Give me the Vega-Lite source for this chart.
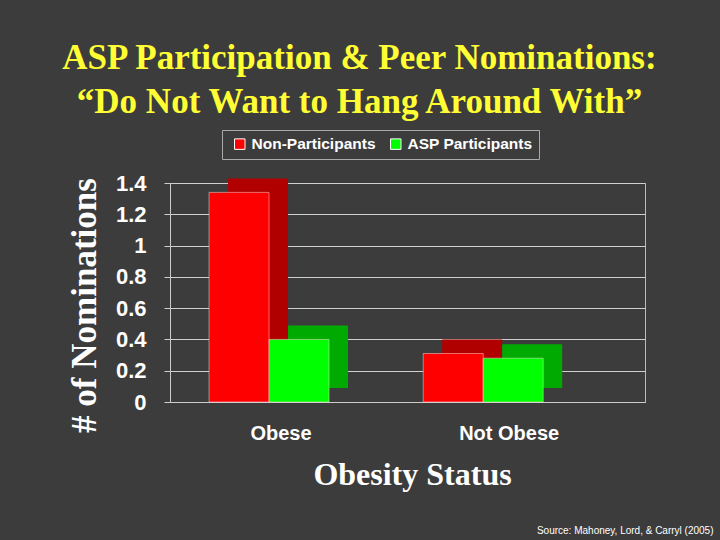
{
  "$schema": "https://vega.github.io/schema/vega-lite/v6.json",
  "autosize": {"type": "none"},
  "width": 475,
  "height": 219,
  "padding": {"left": 170, "top": 183, "right": 75, "bottom": 138},
  "background": "#3c3c3c",
  "title": {
    "text": ["ASP Participation & Peer Nominations:", "“Do Not Want to Hang Around With”"],
    "font": "Liberation Serif",
    "fontSize": 35,
    "fontWeight": "bold",
    "color": "#ffff33",
    "lineHeight": 44,
    "anchor": "middle",
    "dx": -48,
    "offset": 10
  },
  "data": {
    "values": [
      {"Status": "Obese", "Group": "Non-Participants", "Nominations": 1.34},
      {"Status": "Obese", "Group": "ASP Participants", "Nominations": 0.40},
      {"Status": "Not Obese", "Group": "Non-Participants", "Nominations": 0.31},
      {"Status": "Not Obese", "Group": "ASP Participants", "Nominations": 0.28}
    ]
  },
  "config": {
    "view": {"stroke": "#bbbbbb", "strokeWidth": 1},
    "axis": {"labelColor": "white", "titleColor": "white", "domainColor": "#cccccc", "tickColor": "#cccccc", "gridColor": "#d0d0d0"}
  },
  "layer": [
    {
      "mark": {"type": "bar", "yOffset": -14},
      "encoding": {
        "x": {"field": "Status", "type": "nominal", "sort": ["Obese", "Not Obese"],
          "scale": {"paddingInner": 0.44, "paddingOuter": 0.329, "align": 0.277}, "axis": null},
        "xOffset": {"field": "Group", "sort": ["Non-Participants", "ASP Participants"], "scale": {"range": [19, 139]}},
        "y": {"field": "Nominations", "type": "quantitative",
          "scale": {"domain": [0, 1.4]},
          "axis": {"title": "# of Nominations", "values": [0, 0.2, 0.4, 0.6, 0.8, 1, 1.2, 1.4], "format": "~g",
            "labelOverlap": false, "labelBound": false,
            "labelFont": "Arial", "labelFontSize": 22, "labelFontWeight": "bold", "labelPadding": 18, "tickSize": 6,
            "titleFont": "Liberation Serif", "titleFontSize": 35, "titleFontWeight": "bold", "titlePadding": 13, "titleY": 122}},
        "color": {"condition": {"test": "datum.Group === 'Non-Participants'", "value": "#b00000"}, "value": "#00aa00"}
      }
    },
    {
      "mark": {"type": "bar", "stroke": "#ffdddd", "strokeWidth": 0.5},
      "encoding": {
        "x": {"field": "Status", "type": "nominal", "sort": ["Obese", "Not Obese"],
          "scale": {"paddingInner": 0.44, "paddingOuter": 0.329, "align": 0.277},
          "axis": {"title": "Obesity Status", "orient": "bottom", "labelAngle": 0, "labelFont": "Arial", "labelFontSize": 20, "labelFontWeight": "bold",
            "labelPadding": 21, "labelOffset": {"condition": {"test": "datum.value === 'Obese'", "value": 12}, "value": 26}, "ticks": false,
            "titleFont": "Liberation Serif", "titleFontSize": 32, "titleFontWeight": "bold", "titlePadding": 16, "titleX": 242}},
        "xOffset": {"field": "Group", "sort": ["Non-Participants", "ASP Participants"], "scale": {"range": [0, 120]}},
        "y": {"field": "Nominations", "type": "quantitative",
          "scale": {"domain": [0, 1.4]},
          "axis": {"title": "# of Nominations", "values": [0, 0.2, 0.4, 0.6, 0.8, 1, 1.2, 1.4], "format": "~g",
            "labelOverlap": false, "labelBound": false,
            "labelFont": "Arial", "labelFontSize": 22, "labelFontWeight": "bold", "labelPadding": 18, "tickSize": 6,
            "titleFont": "Liberation Serif", "titleFontSize": 35, "titleFontWeight": "bold", "titlePadding": 13, "titleY": 122}},
        "color": {"field": "Group", "scale": {"domain": ["Non-Participants", "ASP Participants"], "range": ["#ff0000", "#00ff00"]},
          "legend": {"title": null, "orient": "none", "legendX": 52, "legendY": -53, "direction": "horizontal",
            "symbolType": "square", "symbolSize": 110, "symbolStrokeColor": "white", "symbolStrokeWidth": 1,
            "labelColor": "white", "labelFont": "Arial", "labelFontSize": 15.5, "labelFontWeight": "bold",
            "strokeColor": "#aaaaaa", "padding": 6, "columnPadding": 8, "symbolOffset": 4}}
      }
    },
    {
      "mark": {"type": "point", "opacity": 0},
      "encoding": {
        "x": {"field": "Status", "type": "nominal", "sort": ["Obese", "Not Obese"],
          "axis": {"title": "Source: Mahoney, Lord, & Carryl (2005)", "orient": "bottom", "labels": false, "ticks": false, "domain": false,
            "titleFont": "Arial", "titleFontSize": 10, "titleFontWeight": "normal", "titleAnchor": "end", "titleAlign": "right",
            "titleX": 543, "titleY": 131, "titleBaseline": "alphabetic"}}
      }
    }
  ],
  "resolve": {"scale": {"x": "independent", "xOffset": "independent"}, "axis": {"x": "independent"}}
}
